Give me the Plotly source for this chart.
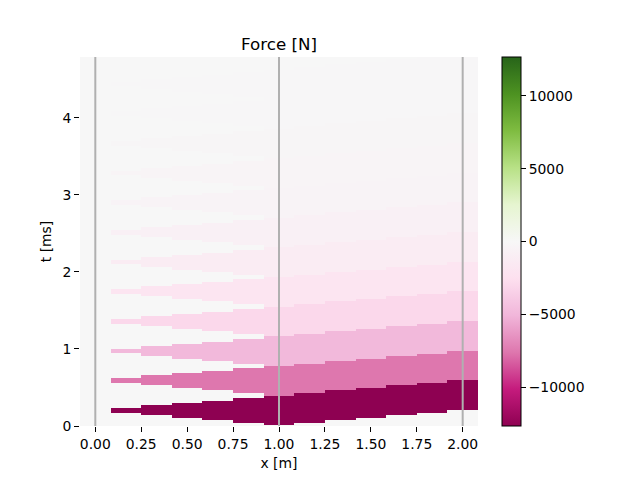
import numpy as np
import plotly.graph_objects as go

# ---- data ----
# element/column centres along x [m]
x_nodes = [0.0, 1/6, 2/6, 3/6, 4/6, 5/6, 1.0, 7/6, 8/6, 9/6, 10/6, 11/6, 2.0]
# lower / upper edge [ms] of the first force band in each column (None = no force)
band0_lower = [None, 0.173, 0.143, 0.104, 0.078, 0.039, 0.008, 0.039, 0.078, 0.104, 0.143, 0.169, 0.208]
band0_upper = [None, 0.234, 0.273, 0.299, 0.325, 0.364, 0.395, 0.429, 0.465, 0.494, 0.530, 0.558, 0.595]
# time offset [ms] of each successive band relative to the first
band_offsets = [0.0, 0.385, 0.770, 1.155, 1.540, 1.925, 2.310, 2.695, 3.080, 3.465, 3.850, 4.235, 4.620]
# force value [N] in each band
band_values = [-12670, -7600, -4900, -3000, -1980, -1220, -760, -470, -290, -180, -110, -70, -40]
# x positions of the vertical reference lines
node_lines = [0.0, 1.0, 2.0]
t_max = 4.79
f_lim = 12670
cbar_ticks = [-10000, -5000, 0, 5000, 10000]
x_ticks = [0.0, 0.25, 0.5, 0.75, 1.0, 1.25, 1.5, 1.75, 2.0]
y_ticks = [0, 1, 2, 3, 4]

# ---- build the field on a fine time grid ----
dt = 0.0025
t_centres = np.arange(dt / 2, t_max, dt)
z = np.zeros((len(t_centres), len(x_nodes)))
for k in range(len(x_nodes)):
    lo0, hi0 = band0_lower[k], band0_upper[k]
    if lo0 is None:
        continue
    for off, val in zip(band_offsets, band_values):
        mask = (t_centres >= lo0 + off) & (t_centres < hi0 + off)
        z[mask, k] = val

piyg = [
    [0.0, "#8e0152"], [0.1, "#c51b7d"], [0.2, "#de77ae"], [0.3, "#f1b6da"],
    [0.4, "#fde0ef"], [0.5, "#f7f7f7"], [0.6, "#e6f5d0"], [0.7, "#b8e186"],
    [0.8, "#7fbc41"], [0.9, "#4d9221"], [1.0, "#276419"],
]

font_family = "DejaVu Sans"
fs = 13.9

fig = go.Figure(
    go.Heatmap(
        x=x_nodes, y=t_centres, z=z,
        colorscale=piyg, zmin=-f_lim, zmax=f_lim,
        zsmooth=False,
        colorbar=dict(
            x=1.0603, xanchor="left", xref="paper",
            y=0, yanchor="bottom", len=1.0, lenmode="fraction",
            thickness=19, thicknessmode="pixels",
            outlinecolor="black", outlinewidth=1,
            tickvals=cbar_ticks, tickformat="d",
            ticks="outside", ticklen=4.9, tickwidth=1.1, tickcolor="black",
            tickfont=dict(family=font_family, size=fs, color="black"),
            xpad=0, ypad=0,
        ),
        hoverinfo="skip",
    )
)

for xv in node_lines:
    fig.add_vline(x=xv, line=dict(color="#b0b0b0", width=2), layer="above")

fig.update_layout(
    width=640, height=480,
    margin=dict(l=80, r=162, t=57, b=54),
    paper_bgcolor="white", plot_bgcolor="white",
    font=dict(family=font_family, size=fs, color="black"),
    title=dict(text="Force [N]", x=(80 + 478) / 2 / 640, xanchor="center",
               y=1 - 44 / 480, yanchor="middle", yref="container", xref="container",
               font=dict(family=font_family, size=16.7, color="black")),
    showlegend=False,
)
fig.update_xaxes(
    range=[-1/12, 25/12], tickvals=x_ticks, tickformat=".2f",
    ticks="outside", ticklen=4.9, tickwidth=1.1, tickcolor="black",
    showgrid=False, zeroline=False, showline=False,
    title=dict(text="x [m]", standoff=7, font=dict(size=fs)),
)
fig.update_yaxes(
    range=[0, t_max], tickvals=y_ticks,
    ticks="outside", ticklen=4.9, tickwidth=1.1, tickcolor="black",
    showgrid=False, zeroline=False, showline=False,
    title=dict(text="t [ms]", standoff=7, font=dict(size=fs)),
)

fig.write_html("out.html")
